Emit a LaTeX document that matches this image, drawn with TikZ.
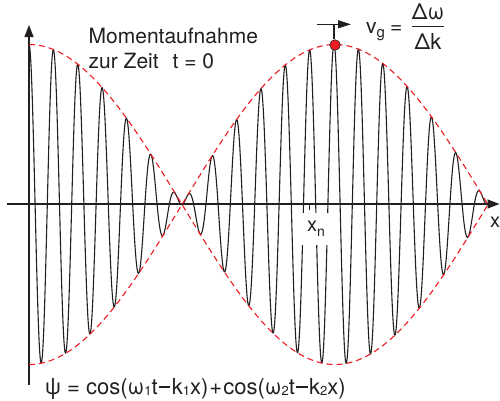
\documentclass[tikz,border=0pt]{standalone}
\usepackage{fontspec}
\setmainfont{TeX Gyre Heros}
\usetikzlibrary{arrows.meta}
\definecolor{wred}{RGB}{237,28,36}
\definecolor{ink}{RGB}{35,31,32}
\newcommand\lowsub[3]{\raisebox{-#2pt}{\fontsize{#3}{#3}\selectfont #1}}
\newcommand\mminus{\hspace{0.06em}\rule[0.3em]{0.52em}{0.075em}\hspace{0.06em}}
\begin{document}
\begin{tikzpicture}[x=1pt,y=-1pt,
  axis/.style={line width=1.1pt, draw=ink, -{Triangle[length=12pt,width=9pt]}},
  wave/.style={line width=1.1pt, draw=ink, line join=round},
  env/.style={line width=1.1pt, draw=wred, dash pattern=on 6pt off 4pt},
  lbl/.style={inner sep=0pt, text=ink, font=\fontsize{21}{25}\selectfont},
  big/.style={inner sep=0pt, text=ink, font=\fontsize{22}{26}\selectfont}
]
\useasboundingbox (0,0) rectangle (500,400);
% axes
\coordinate (yb) at (29,385);
\coordinate (yt) at (29,25);
\coordinate (xl) at (7,204);
\coordinate (xr) at (499.5,204);
\draw[axis] (yb) -- (yt);
\draw[axis] (xl) -- (xr);
% wave
\draw[wave] plot[domain=29:488, samples=1000] (\x, {204.5-160*cos(14.7541*(\x-29))*cos(0.588235*(\x-29))});
% envelope
\draw[env] plot[domain=29:488, samples=160] (\x, {204.5-160*cos(0.588235*(\x-29))});
\draw[env] plot[domain=29:488, samples=160] (\x, {204.5+160*cos(0.588235*(\x-29))});
% x_n label
\node[lbl, fill=white, minimum width=34pt, minimum height=32pt, font=\fontsize{20}{24}\selectfont] (xn) at (316,229) {x\lowsub{n}{5}{14}};
\coordinate (tk1) at (309.3,205);
\coordinate (tk2) at (309.3,210);
\draw[line width=0.8pt, draw=ink] (tk1) -- (tk2);
% x axis label
\node[lbl, anchor=base, font=\fontsize{20}{24}\selectfont] (xlab) at (495,227.3) {x};
% group velocity marker
\node[circle, fill=wred, draw=ink, line width=0.6pt, minimum size=10.5pt, inner sep=0pt] (dot) at (335,45) {};
\coordinate (vt) at (334,24.3);
\draw[line width=1.1pt, draw=ink] (vt) -- (vt |- dot.north);
\coordinate (ha) at (317,24.3);
\coordinate (hb) at (351,24.3);
\draw[line width=1.1pt, draw=ink, -{Triangle[length=13pt,width=8pt]}] (ha) -- (hb);
% texts
\node[lbl, anchor=base west] (m1) at (88.5,43.3) {Momentaufnahme};
\node[lbl, anchor=base west] (m2) at (88.5,68.5) {zur Zeit\hspace{14pt}t = 0};
\node[lbl, anchor=base west] (vg) at (366,33.5) {v\lowsub{g}{4}{15}\hspace{5pt}=};
\node[lbl, anchor=base, font=\fontsize{22}{26}\selectfont] (num) at (428,19) {Δω};
\node[lbl, anchor=base, font=\fontsize{22}{26}\selectfont] (den) at (428,49) {Δk};
\coordinate (bl) at (411.7,26.7);
\coordinate (br) at (444,26.7);
\draw[line width=1pt, draw=ink] (bl) -- (br);
\node[big, anchor=base west] (psi) at (45,394.5) {ψ = cos(ω\lowsub{1}{1}{13}t\mminus k\lowsub{1}{1}{13}x)\hspace{0.05em}+\hspace{0.05em}cos(ω\lowsub{2}{1}{13}t\mminus k\lowsub{2}{1}{13}x)};
\end{tikzpicture}
\end{document}
